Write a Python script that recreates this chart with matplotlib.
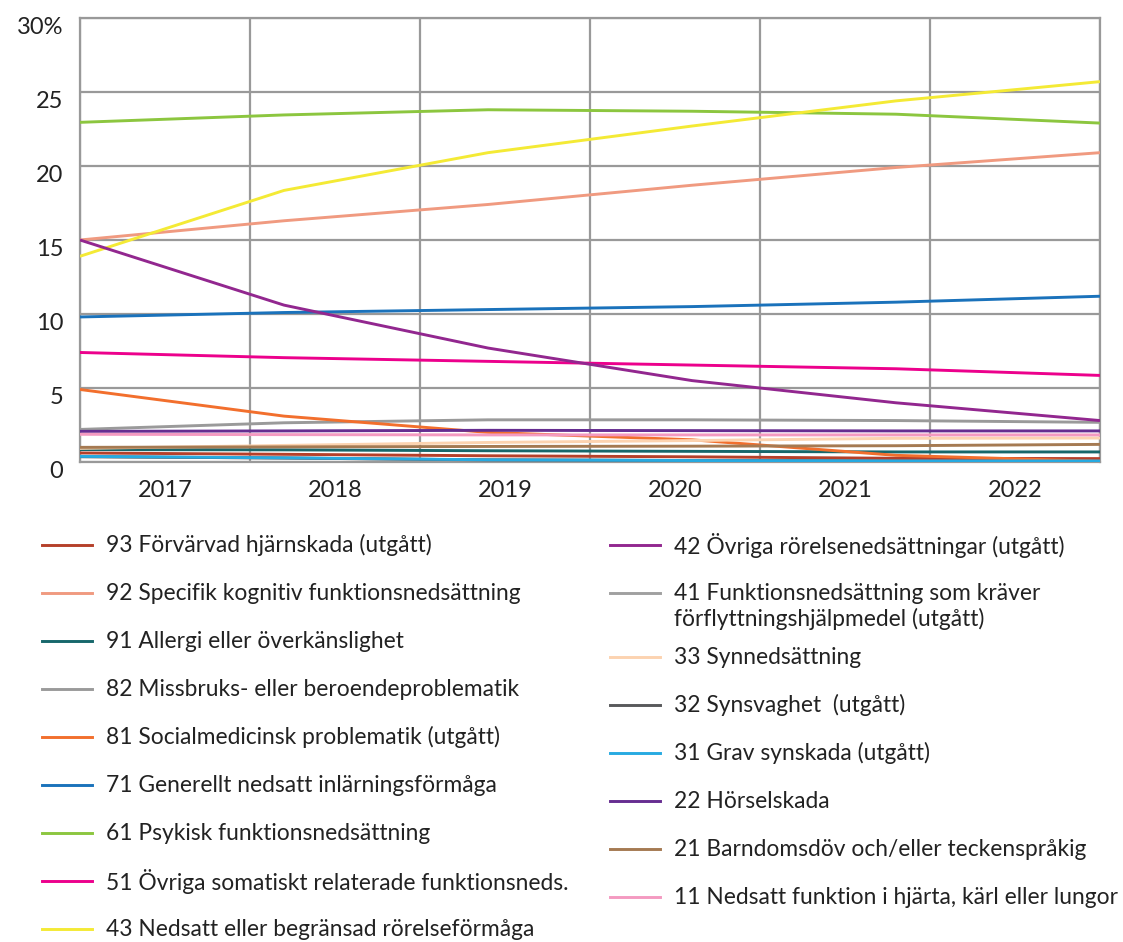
import matplotlib
matplotlib.use("Agg")
import matplotlib.pyplot as plt
import matplotlib.transforms as mtransforms
from matplotlib.lines import Line2D

plt.rcParams["font.family"] = ["Lato", "DejaVu Sans"]

years = ["2017", "2018", "2019", "2020", "2021", "2022"]

labels = [
    "93 Förvärvad hjärnskada (utgått)",
    "92 Specifik kognitiv funktionsnedsättning",
    "91 Allergi eller överkänslighet",
    "82 Missbruks- eller beroendeproblematik",
    "81 Socialmedicinsk problematik (utgått)",
    "71 Generellt nedsatt inlärningsförmåga",
    "61 Psykisk funktionsnedsättning",
    "51 Övriga somatiskt relaterade funktionsneds.",
    "43 Nedsatt eller begränsad rörelseförmåga",
    "42 Övriga rörelsenedsättningar (utgått)",
    "41 Funktionsnedsättning som kräver\nförflyttningshjälpmedel (utgått)",
    "33 Synnedsättning",
    "32 Synsvaghet  (utgått)",
    "31 Grav synskada (utgått)",
    "22 Hörselskada",
    "21 Barndomsdöv och/eller teckenspråkig",
    "11 Nedsatt funktion i hjärta, kärl eller lungor",
]

colors = [
    "#b5402a", "#f09a80", "#17676b", "#9a9a9a", "#f26f2d", "#1a72bb",
    "#8cc63f", "#ec008c", "#f4ea35", "#92278f", "#a0a0a0", "#fcd3b0",
    "#58595b", "#27aae1", "#662d91", "#a57a52", "#f49ac1",
]

# percent per year, same order as labels
v93 = [0.61, 0.52, 0.42, 0.35, 0.25, 0.23]
v92 = [15.0, 16.3, 17.4, 18.7, 19.9, 20.9]
v91 = [0.84, 0.82, 0.76, 0.72, 0.68, 0.68]
v82 = [2.2, 2.65, 2.85, 2.85, 2.8, 2.68]
v81 = [4.9, 3.1, 2.0, 1.5, 0.45, 0.05]
v71 = [9.8, 10.1, 10.3, 10.5, 10.8, 11.2]
v61 = [22.95, 23.45, 23.8, 23.7, 23.5, 22.9]
v51 = [7.4, 7.05, 6.8, 6.55, 6.3, 5.85]
v43 = [13.9, 18.35, 20.9, 22.7, 24.4, 25.7]
v42 = [15.0, 10.6, 7.7, 5.5, 4.0, 2.8]
v41 = [0.36, 0.27, 0.14, 0.1, 0.07, 0.07]
v33 = [0.92, 1.12, 1.32, 1.45, 1.6, 1.62]
v32 = [0.36, 0.27, 0.14, 0.1, 0.07, 0.07]
v31 = [0.38, 0.28, 0.15, 0.1, 0.07, 0.07]
v22 = [2.07, 2.1, 2.14, 2.12, 2.1, 2.1]
v21 = [0.99, 1.02, 1.05, 1.07, 1.1, 1.19]
v11 = [1.87, 1.85, 1.83, 1.83, 1.83, 1.83]

series = [v93, v92, v91, v82, v81, v71, v61, v51, v43,
          v42, v41, v33, v32, v31, v22, v21, v11]

W, H = 1123, 942
fig = plt.figure(figsize=(W / 100, H / 100), dpi=100)
ax = fig.add_axes([80 / W, 1 - 462 / H, 1020 / W, 444 / H])

grid_c = "#999999"
x = list(range(len(years)))
# hidden / small series first so the visible ones sit on top
order = [10, 12] + [i for i in range(len(series)) if i not in (10, 12)]
for i in order:
    ax.plot(x, series[i], color=colors[i], linewidth=2.1, solid_capstyle="butt", zorder=3)

n = len(years)
ax.set_xlim(0, n - 1)
ax.set_ylim(0, 30)
step = (n - 1) / n
ax.set_xticks([(k + 0.5) * step for k in range(n)])
ax.set_xticklabels(years)
ax.set_xticks([k * step for k in range(n + 1)], minor=True)
ax.set_yticks(range(0, 31, 5))
ax.set_yticklabels(["0", "5", "10", "15", "20", "25", "30%"])

ax.grid(False)
ax.grid(True, which="minor", axis="x", color=grid_c, linewidth=1.6)
ax.grid(True, which="major", axis="y", color=grid_c, linewidth=1.6)
ax.set_axisbelow(True)
for s in ax.spines.values():
    s.set_color(grid_c)
    s.set_linewidth(1.6)
ax.tick_params(which="both", length=0)
ax.tick_params(axis="x", pad=13, labelsize=17, labelcolor="#222222")
ax.tick_params(axis="y", pad=12, labelsize=17, labelcolor="#222222")
off = mtransforms.ScaledTranslation(0, -7 / 100, fig.dpi_scale_trans)
for lab in ax.get_yticklabels():
    lab.set_transform(lab.get_transform() + off)

# legend, two columns
def fy(py):
    return 1 - py / H

for i, (lab, c) in enumerate(zip(labels, colors)):
    if i < 9:
        x0, row = 42, 545 + i * 48
    else:
        j = i - 9
        x0, row = 610, 545 + j * 48 + (16 if j >= 2 else 0)
    fig.add_artist(Line2D([x0 / W, (x0 + 50) / W], [fy(row), fy(row)],
                          color=c, linewidth=2.1, transform=fig.transFigure))
    ty = row + 13.5 if "\n" in lab else row
    fig.text((x0 + 64) / W, fy(ty), lab, fontsize=16.4, color="#222222",
             va="center", ha="left", linespacing=1.18)

fig.savefig("out.png", dpi=100, facecolor="white")
